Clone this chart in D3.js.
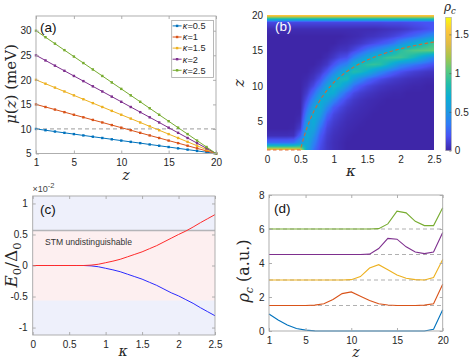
<!DOCTYPE html>
<html><head><meta charset="utf-8">
<script src="https://cdn.jsdelivr.net/npm/d3@7"></script>
<style>
body{margin:0;background:#fff}
svg{display:block}
text{font-family:"Liberation Sans",Arial,Helvetica,sans-serif}
</style>
</head><body>
<svg id="c" width="474" height="360"></svg>
<script>
// ---------------- DATA ----------------
// Panel (a): mu(z) for each kappa
const zA = [1,2,3,4,5,6,7,8,9,10,11,12,13,14,15,16,17,18,19,20];
const kappaLabels = ["0.5","1","1.5","2","2.5"];
const muK05 = [10,9.74,9.47,9.21,8.95,8.68,8.42,8.16,7.89,7.63,7.37,7.11,6.84,6.58,6.32,6.05,5.79,5.53,5.26,5];
const muK10 = [15,14.47,13.95,13.42,12.89,12.37,11.84,11.32,10.79,10.26,9.74,9.21,8.68,8.16,7.63,7.11,6.58,6.05,5.53,5];
const muK15 = [20,19.21,18.42,17.63,16.84,16.05,15.26,14.47,13.68,12.89,12.11,11.32,10.53,9.74,8.95,8.16,7.37,6.58,5.79,5];
const muK20 = [25,23.95,22.89,21.84,20.79,19.74,18.68,17.63,16.58,15.53,14.47,13.42,12.37,11.32,10.26,9.21,8.16,7.11,6.05,5];
const muK25 = [30,28.68,27.37,26.05,24.74,23.42,22.11,20.79,19.47,18.16,16.84,15.53,14.21,12.89,11.58,10.26,8.95,7.63,6.32,5];
const muRef = 10;
const aXTicks = [1,5,10,15,20];
const aYTicks = [5,10,15,20,25,30];

// Panel (b): rho_c(kappa, z) heat map, one row per kappa, values for z = 1..20
const kappaGrid = [0,0.1,0.2,0.3,0.4,0.5,0.6,0.7,0.8,0.9,1.0,1.1,1.2,1.3,1.4,1.5,1.6,1.7,1.8,1.9,2.0,2.1,2.2,2.3,2.4,2.5];
const zGrid = [1,2,3,4,5,6,7,8,9,10,11,12,13,14,15,16,17,18,19,20];
const rhoGrid = [
 [1.5,0.3,0.04,0,0,0,0,0,0,0,0,0,0,0,0,0,0,0.03,0.15,1.65],
 [1.5,0.3,0.04,0,0,0,0,0,0,0,0,0,0,0,0,0,0,0.03,0.15,1.65],
 [1.5,0.3,0.04,0,0,0,0,0,0,0,0,0,0,0,0,0,0,0.03,0.15,1.65],
 [1.5,0.3,0.04,0,0,0,0,0,0,0,0,0,0,0,0,0,0,0.03,0.15,1.65],
 [1.5,0.32,0.05,0.01,0,0,0,0,0,0,0,0,0,0,0,0,0,0.03,0.15,1.65],
 [1.4,0.5,0.25,0.1,0.04,0.01,0,0,0,0,0,0,0,0,0,0,0,0.03,0.15,1.65],
 [0.6,0.65,0.68,0.62,0.52,0.4,0.28,0.18,0.1,0.05,0.02,0,0,0,0,0,0,0.03,0.15,1.65],
 [0.3,0.38,0.48,0.6,0.68,0.68,0.58,0.42,0.28,0.15,0.07,0.03,0,0,0,0,0,0.03,0.15,1.65],
 [0.15,0.18,0.22,0.3,0.42,0.56,0.68,0.68,0.52,0.33,0.18,0.08,0.03,0,0,0,0,0.03,0.15,1.65],
 [0.08,0.08,0.1,0.13,0.18,0.27,0.42,0.62,0.72,0.58,0.38,0.2,0.08,0.03,0,0,0,0.03,0.15,1.65],
 [0.04,0.04,0.05,0.07,0.1,0.14,0.22,0.4,0.68,0.78,0.6,0.38,0.2,0.08,0.03,0,0,0.03,0.15,1.65],
 [0.02,0.02,0.03,0.04,0.06,0.09,0.14,0.24,0.42,0.7,0.8,0.55,0.32,0.15,0.06,0.02,0,0.03,0.15,1.65],
 [0,0,0.01,0.02,0.03,0.05,0.08,0.14,0.26,0.5,0.82,0.72,0.4,0.18,0.07,0.03,0.01,0.03,0.15,1.65],
 [0,0,0,0.01,0.02,0.03,0.05,0.08,0.15,0.3,0.55,0.85,0.68,0.35,0.14,0.05,0.02,0.03,0.15,1.65],
 [0,0,0,0,0.01,0.02,0.03,0.05,0.1,0.2,0.42,0.8,0.82,0.48,0.22,0.08,0.03,0.03,0.15,1.65],
 [0,0,0,0,0,0.01,0.02,0.03,0.07,0.14,0.3,0.7,0.9,0.62,0.32,0.12,0.05,0.03,0.15,1.65],
 [0,0,0,0,0,0,0.01,0.02,0.05,0.1,0.22,0.55,0.92,0.75,0.4,0.16,0.06,0.03,0.15,1.65],
 [0,0,0,0,0,0,0,0.01,0.03,0.07,0.16,0.42,0.88,0.85,0.48,0.2,0.08,0.04,0.15,1.65],
 [0,0,0,0,0,0,0,0,0.02,0.05,0.12,0.32,0.75,0.93,0.58,0.25,0.1,0.05,0.16,1.65],
 [0,0,0,0,0,0,0,0,0.01,0.04,0.09,0.24,0.6,0.95,0.72,0.32,0.13,0.06,0.16,1.65],
 [0,0,0,0,0,0,0,0,0.01,0.03,0.07,0.18,0.45,0.95,0.88,0.45,0.17,0.07,0.16,1.65],
 [0,0,0,0,0,0,0,0,0,0.02,0.05,0.14,0.38,0.88,0.95,0.55,0.22,0.09,0.17,1.65],
 [0,0,0,0,0,0,0,0,0,0.01,0.04,0.11,0.32,0.78,1.0,0.65,0.27,0.12,0.18,1.65],
 [0,0,0,0,0,0,0,0,0,0.01,0.03,0.09,0.27,0.65,1.02,0.75,0.33,0.14,0.19,1.65],
 [0,0,0,0,0,0,0,0,0,0,0.02,0.07,0.22,0.52,1.03,0.85,0.4,0.17,0.2,1.65],
 [0,0,0,0,0,0,0,0,0,0,0.02,0.06,0.18,0.4,1.05,0.95,0.47,0.2,0.2,1.65]
];
// dashed curve where mu(z) = 10 meV
const dashK = [0,0.5,0.55,0.6,0.65,0.7,0.8,0.9,1.0,1.1,1.2,1.3,1.4,1.5,1.6,1.7,1.8,1.9,2.0,2.1,2.2,2.3,2.4,2.5];
const dashZ = [1,1,2.73,4.17,5.38,6.43,8.13,9.44,10.5,11.36,12.08,12.69,13.21,13.67,14.06,14.41,14.72,15.0,15.25,15.48,15.68,15.87,16.04,16.2];
const bXTicks = [0,0.5,1,1.5,2,2.5];
const bYTicks = [5,10,15,20];
const cbTicks = [0,0.5,1,1.5];
const cbMax = 1.72;

// Panel (c): E0/Delta0 (x1e-2) vs kappa
const kC = [0,0.1,0.2,0.3,0.4,0.5,0.6,0.7,0.8,0.9,1.0,1.1,1.2,1.3,1.4,1.5,1.6,1.7,1.8,1.9,2.0,2.1,2.2,2.3,2.4,2.5];
const ePlus  = [0,0,0,0,0,0,0,0,0.006,0.02,0.045,0.07,0.1,0.14,0.18,0.22,0.27,0.32,0.38,0.44,0.5,0.555,0.62,0.69,0.755,0.82];
const eMinus = [0,0,0,0,0,0,0,0,-0.006,-0.02,-0.045,-0.07,-0.1,-0.14,-0.18,-0.22,-0.27,-0.32,-0.38,-0.44,-0.49,-0.55,-0.61,-0.68,-0.745,-0.81];
const stmLimit = 0.564;
const cXTicks = [0,0.5,1,1.5,2,2.5];
const cYTicks = [-1,-0.5,0,0.5,1];

// Panel (d): rho_c profiles (offset) along z
const zD = [1,2,3,4,5,6,7,8,9,10,11,12,13,14,15,16,17,18,19,20];
const rhoK05 = [1.0,0.65,0.35,0.15,0.05,0.01,0,0,0,0,0,0,0,0,0,0,0,0,0.1,1.25];
const rhoK10 = [1.5,1.5,1.5,1.5,1.5,1.52,1.6,1.85,2.2,2.3,2.05,1.8,1.6,1.53,1.5,1.5,1.5,1.52,1.6,2.75];
const rhoK15 = [3,3,3,3,3,3,3,3,3,3.02,3.2,3.7,3.9,3.6,3.3,3.1,3.02,3.0,3.15,4.2];
const rhoK20 = [4.5,4.5,4.5,4.5,4.5,4.5,4.5,4.5,4.5,4.5,4.5,4.52,4.85,5.45,5.4,4.95,4.65,4.55,4.65,5.8];
const rhoK25 = [6,6,6,6,6,6,6,6,6,6,6,6,6.02,6.3,7.05,6.95,6.45,6.2,6.2,7.25];
const offsets = [1.5,3,4.5,6];
const dXTicks = [1,5,10,15,20];
const dYTicks = [0,2,4,6,8];

// ---------------- STYLE ----------------
const colors = ["#0072BD","#D95319","#EDB120","#7E2F8E","#77AC30"];
const parula = [[0,"#3e26a8"],[0.11,"#4852f4"],[0.2,"#2f7cf6"],[0.3,"#1c99e0"],[0.4,"#0cadd4"],[0.5,"#22bda9"],[0.6,"#59c97f"],[0.7,"#a5c54d"],[0.8,"#e0bb45"],[0.9,"#fcc63a"],[1,"#f9fb0e"]];
const boxCol = "#a6a6a6", txtCol = "#262626";

const svg = d3.select("#c");

function axes(x, y, xt, yt, opts={}) {
  const [xl, xr] = x.range(), [yb, yt0] = y.range();
  const g = svg.append("g");
  const fmt = d => String(d);
  g.append("g").attr("transform",`translate(0,${yb})`)
    .call(d3.axisBottom(x).tickValues(xt).tickSizeInner(opts.noInner?0:-3).tickSizeOuter(0).tickPadding(5.5).tickFormat(fmt));
  g.append("g").attr("transform",`translate(${xl},0)`)
    .call(d3.axisLeft(y).tickValues(yt).tickSizeInner(opts.noInner?0:-3).tickSizeOuter(0).tickPadding(opts.yPad||4.5).tickFormat(fmt));
  if (opts.box) {
    g.append("g").attr("transform",`translate(0,${yt0})`)
      .call(d3.axisTop(x).tickValues(xt).tickSizeInner(-3).tickSizeOuter(0).tickFormat(""));
    g.append("g").attr("transform",`translate(${xr},0)`)
      .call(d3.axisRight(y).tickValues(yt).tickSizeInner(-3).tickSizeOuter(0).tickFormat(""));
    g.append("rect").attr("x",xl).attr("y",yt0).attr("width",xr-xl).attr("height",yb-yt0)
      .attr("fill","none").attr("stroke",boxCol).attr("stroke-width",0.9);
  }
  g.selectAll(".domain").remove();
  g.selectAll(".tick line").attr("stroke",boxCol).attr("stroke-width",0.9);
  g.selectAll(".tick text").attr("fill",txtCol).attr("font-size",10)
    .attr("font-family",'"Liberation Sans",Arial,sans-serif');
  return g;
}

function label(x, y, rot, size, parts) {
  const t = svg.append("text").attr("transform",`translate(${x},${y}) rotate(${rot||0})`)
    .attr("text-anchor","middle").attr("font-size",size).attr("fill",txtCol)
    .style("font-family",'"DejaVu Serif","Liberation Serif",serif');
  parts.forEach(p => {
    const s = t.append("tspan").text(p.t);
    if (p.i) s.attr("font-style","italic");
    if (p.small) s.attr("font-size",size*0.68);
    if (p.dy) s.attr("dy",p.dy);
  });
  return t;
}

// ---------------- PANEL (a) ----------------
{
  const x = d3.scaleLinear().domain([1,20]).range([36,216]);
  const y = d3.scaleLinear().domain([5,33]).range([153.5,16]);
  svg.append("line").attr("x1",x(1)).attr("x2",x(20)).attr("y1",y(muRef)).attr("y2",y(muRef))
    .attr("stroke","#b0b0b0").attr("stroke-width",1.3).attr("stroke-dasharray","4,3");
  const series = [muK05,muK10,muK15,muK20,muK25];
  const line = d3.line().x((d,i)=>x(zA[i])).y(d=>y(d));
  series.forEach((s,k) => {
    svg.append("path").attr("d",line(s)).attr("fill","none").attr("stroke",colors[k]).attr("stroke-width",1);
    svg.append("g").selectAll("rect").data(s).join("rect")
      .attr("x",(d,i)=>x(zA[i])-1.2).attr("y",d=>y(d)-1.2).attr("width",2.4).attr("height",2.4)
      .attr("fill",colors[k]);
  });
  axes(x,y,aXTicks,aYTicks,{box:true});
  const lg = svg.append("g");
  lg.append("rect").attr("x",171.7).attr("y",20.5).attr("width",41.8).attr("height",57)
    .attr("fill","#fff").attr("stroke",boxCol).attr("stroke-width",0.8);
  kappaLabels.forEach((lab,k) => {
    const yy = 25.9 + k*11.1;
    lg.append("line").attr("x1",172.6).attr("x2",181.6).attr("y1",yy).attr("y2",yy).attr("stroke",colors[k]).attr("stroke-width",1);
    lg.append("rect").attr("x",175.9).attr("y",yy-1.2).attr("width",2.4).attr("height",2.4).attr("fill",colors[k]);
    const t = lg.append("text").attr("x",182.8).attr("y",yy+3.3).attr("font-size",9.2).attr("fill",txtCol);
    t.append("tspan").text("κ").attr("font-style","italic");
    t.append("tspan").text("="+lab);
  });
  svg.append("text").attr("x",40).attr("y",32).attr("font-size",13.5).attr("fill","#111").text("(a)");
  label(126,179.5,0,14,[{t:"z",i:true}]);
  label(16,84,-90,15,[{t:"μ",i:true},{t:"("},{t:"z",i:true},{t:") (meV)"}]);
}

// ---------------- PANEL (b) ----------------
{
  const x = d3.scaleLinear().domain([0,2.5]).range([267,434]);
  const y = d3.scaleLinear().domain([1,20]).range([150,15]);
  const W = 167, H = 135;
  const cs = d3.scaleLinear().domain(parula.map(p=>p[0]*cbMax)).range(parula.map(p=>p[1])).clamp(true);
  const canvas = document.createElement("canvas");
  canvas.width = W; canvas.height = H;
  const ctx = canvas.getContext("2d");
  const img = ctx.createImageData(W,H);
  const kStep = kappaGrid[1]-kappaGrid[0];
  for (let py=0; py<H; py++) {
    const z = y.invert(15+py+0.5);
    let fz = Math.max(0, Math.min(zGrid.length-1.0001, z - zGrid[0]));
    const iz = Math.floor(fz), tz = fz-iz;
    for (let px=0; px<W; px++) {
      const k = x.invert(267+px+0.5);
      let fk = Math.max(0, Math.min(kappaGrid.length-1.0001, (k-kappaGrid[0])/kStep));
      const ik = Math.floor(fk), tk = fk-ik;
      const v = (1-tk)*((1-tz)*rhoGrid[ik][iz]+tz*rhoGrid[ik][iz+1]) + tk*((1-tz)*rhoGrid[ik+1][iz]+tz*rhoGrid[ik+1][iz+1]);
      const c = d3.rgb(cs(v));
      const o = (py*W+px)*4;
      img.data[o]=c.r; img.data[o+1]=c.g; img.data[o+2]=c.b; img.data[o+3]=255;
    }
  }
  ctx.putImageData(img,0,0);
  svg.append("image").attr("x",267).attr("y",15).attr("width",W).attr("height",H)
    .attr("href",canvas.toDataURL()).attr("preserveAspectRatio","none");
  svg.append("path").attr("d",d3.line().x((d,i)=>x(dashK[i])).y(d=>y(d))(dashZ))
    .attr("fill","none").attr("stroke","#e0622a").attr("stroke-width",1.1).attr("stroke-dasharray","3.5,2.5").attr("opacity",0.9);
  axes(x,y,bXTicks,bYTicks,{noInner:true,yPad:4});
  svg.append("text").attr("x",275).attr("y",31).attr("font-size",13.5).attr("fill","#fff").text("(b)");
  label(351,176,0,15,[{t:"κ",i:true}]);
  label(244,83,-90,15,[{t:"z",i:true}]);
  const cy = d3.scaleLinear().domain([0,cbMax]).range([150.7,17.3]);
  const grad = svg.append("defs").append("linearGradient").attr("id","cbg")
    .attr("x1",0).attr("y1",1).attr("x2",0).attr("y2",0);
  parula.forEach(p => grad.append("stop").attr("offset",p[0]).attr("stop-color",p[1]));
  svg.append("rect").attr("x",445.7).attr("y",17.3).attr("width",5.6).attr("height",133.4)
    .attr("fill","url(#cbg)").attr("stroke",boxCol).attr("stroke-width",0.6);
  const cg = svg.append("g").attr("transform","translate(451.3,0)")
    .call(d3.axisRight(cy).tickValues(cbTicks).tickSizeInner(-2).tickSizeOuter(0).tickPadding(3.5).tickFormat(d=>String(d)));
  cg.select(".domain").remove();
  cg.selectAll(".tick line").attr("stroke","#555").attr("stroke-width",0.6);
  cg.selectAll(".tick text").attr("fill",txtCol).attr("font-size",10);
  const rl = svg.append("text").attr("x",444).attr("y",11).attr("font-size",12).attr("fill",txtCol)
    .style("font-family",'"DejaVu Serif","Liberation Serif",serif');
  rl.append("tspan").text("ρ").attr("font-style","italic");
  rl.append("tspan").text("c").attr("font-style","italic").attr("font-size",8.5).attr("dy",2.5);
}

// ---------------- PANEL (c) ----------------
{
  const x = d3.scaleLinear().domain([0,2.5]).range([32.7,215]);
  const y = d3.scaleLinear().domain([-1.12,1.12]).range([335,196]);
  svg.append("rect").attr("x",x(0)).attr("y",y(1.12)).attr("width",x(2.5)-x(0)).attr("height",y(-1.12)-y(1.12)).attr("fill","#eef0fb");
  svg.append("rect").attr("x",x(0)).attr("y",y(stmLimit)).attr("width",x(2.5)-x(0)).attr("height",y(-stmLimit)-y(stmLimit)).attr("fill","#fdeff0");
  svg.append("line").attr("x1",x(0)).attr("x2",x(2.5)).attr("y1",y(stmLimit)).attr("y2",y(stmLimit))
    .attr("stroke","#b4b4b8").attr("stroke-width",1.6);
  const line = d3.line().x((d,i)=>x(kC[i])).y(d=>y(d));
  svg.append("path").attr("d",line(eMinus)).attr("fill","none").attr("stroke","#2b2bff").attr("stroke-width",1);
  svg.append("path").attr("d",line(ePlus)).attr("fill","none").attr("stroke","#ff2b2b").attr("stroke-width",1);
  svg.append("text").attr("x",45).attr("y",244.5).attr("font-size",8.6).attr("fill","#333").text("STM undistinguishable");
  axes(x,y,cXTicks,cYTicks,{box:true,yPad:5});
  const ex = svg.append("text").attr("x",32.5).attr("y",192).attr("font-size",9).attr("fill","#444");
  ex.append("tspan").text("×10");
  ex.append("tspan").text("-2").attr("font-size",7.5).attr("dy",-4);
  svg.append("text").attr("x",40).attr("y",214).attr("font-size",13.5).attr("fill","#111").text("(c)");
  label(123,355.5,0,14,[{t:"κ",i:true}]);
  label(17,265,-90,17,[{t:"E",i:true},{t:"0",small:true,dy:4},{t:"/Δ",dy:-4},{t:"0",small:true,dy:4}]);
}

// ---------------- PANEL (d) ----------------
{
  const x = d3.scaleLinear().domain([1,20]).range([269,442.7]);
  const y = d3.scaleLinear().domain([0,8]).range([331,195]);
  offsets.forEach(o => svg.append("line").attr("x1",x(1)).attr("x2",x(20)).attr("y1",y(o)).attr("y2",y(o))
    .attr("stroke","#b0b0b0").attr("stroke-width",1.1).attr("stroke-dasharray","4,3"));
  const line = d3.line().x((d,i)=>x(zD[i])).y(d=>y(d));
  [rhoK05,rhoK10,rhoK15,rhoK20,rhoK25].forEach((s,k) =>
    svg.append("path").attr("d",line(s)).attr("fill","none").attr("stroke",colors[k]).attr("stroke-width",1.1));
  axes(x,y,dXTicks,dYTicks,{box:true});
  svg.append("text").attr("x",274).attr("y",213).attr("font-size",13.5).attr("fill","#111").text("(d)");
  label(356,357,0,14,[{t:"z",i:true}]);
  label(249,271,-90,16,[{t:"ρ",i:true},{t:"c",i:true,small:true,dy:4},{t:" (a.u.)",dy:-4}]);
}
</script>
</body></html>
